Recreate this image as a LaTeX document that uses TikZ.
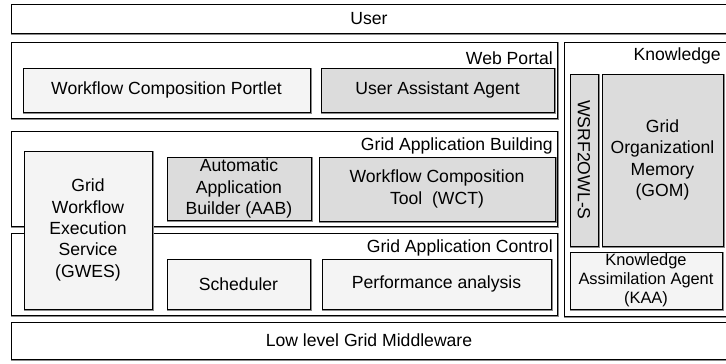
\documentclass[tikz,border=0pt]{standalone}
\usepackage{fontspec}
\setmainfont{Liberation Sans}
\definecolor{lightfill}{HTML}{F4F4F4}
\definecolor{darkfill}{HTML}{DCDCDC}
\definecolor{shadowgray}{HTML}{8A8A8A}
\newcommand\bx[7]{%
  \pgfmathsetmacro\bxcx{(#3+#5)/2}%
  \pgfmathsetmacro\bxcy{(#4+#6)/2}%
  \pgfmathsetmacro\bxw{(#5-#3)*0.75}%
  \pgfmathsetmacro\bxh{(#6-#4)*0.75}%
  \node[#2, minimum width=\bxw pt, minimum height=\bxh pt] (#1) at (\bxcx,\bxcy) {#7};}
\begin{document}
\begin{tikzpicture}[x=0.75pt,y=-0.75pt,
  font=\fontsize{13.2}{16}\selectfont,
  frame/.style={draw=black, line width=0.6pt, fill=white, inner sep=0pt, align=center,
    preaction={draw=shadowgray, line width=1.1pt, transform canvas={shift={(0.9pt,-0.9pt)}}}},
  lightbox/.style={frame, fill=lightfill},
  darkbox/.style={frame, fill=darkfill},
  framelabel/.style={inner sep=0pt, anchor=east}]
\clip (0,0) rectangle (726,364);
\fill[white] (0,0) rectangle (726,364);
% outer frames
\bx{user}{frame}{11}{4}{727}{33}{User}
\bx{low}{frame}{11}{322}{727}{359}{Low level Grid Middleware}
\bx{web}{frame}{11}{42}{557}{118}{}
\bx{gab}{frame}{11}{131}{557}{226}{}
\bx{gac}{frame}{11}{233}{557}{315}{}
\bx{kn}{frame}{564}{42}{727}{316}{}
% frame labels
\node[framelabel] (weblbl) at (553,58) {Web Portal};
\node[framelabel] (gablbl) at (553,146) {Grid Application Building};
\node[framelabel] (gaclbl) at (553,248) {Grid Application Control};
\node[framelabel] (knlbl) at (721,56) {Knowledge};
% inner boxes
\bx{wcp}{lightbox}{23}{68}{310}{112}{Workflow Composition Portlet}
\bx{uaa}{darkbox}{321}{68}{554}{112}{User Assistant Agent}
\bx{aab}{darkbox}{167}{157}{311}{220}{Automatic\\Application\\Builder (AAB)}
\bx{wct}{darkbox}{319}{157}{555}{221}{Workflow Composition\\Tool\ \ (WCT)}
\bx{sch}{lightbox}{167}{259}{310}{309}{Scheduler}
\bx{perf}{lightbox}{322}{259}{551}{309}{Performance analysis}
\bx{gwes}{lightbox}{24}{151}{152}{309}{Grid\\Workflow\\Execution\\Service\\(GWES)}
\bx{wsrf}{darkbox}{570}{74}{598}{246}{}
\node[rotate=-90, inner sep=0pt] (wsrftxt) at (wsrf.center) {WSRF2OWL-S};
\bx{gom}{darkbox}{602}{74}{723}{246}{Grid\\Organizationl\\Memory\\(GOM)}
\bx{kaa}{lightbox, font=\fontsize{12.3}{14.3}\selectfont}{570}{252}{722}{309}{Knowledge\\Assimilation Agent\\(KAA)}
\end{tikzpicture}
\end{document}
